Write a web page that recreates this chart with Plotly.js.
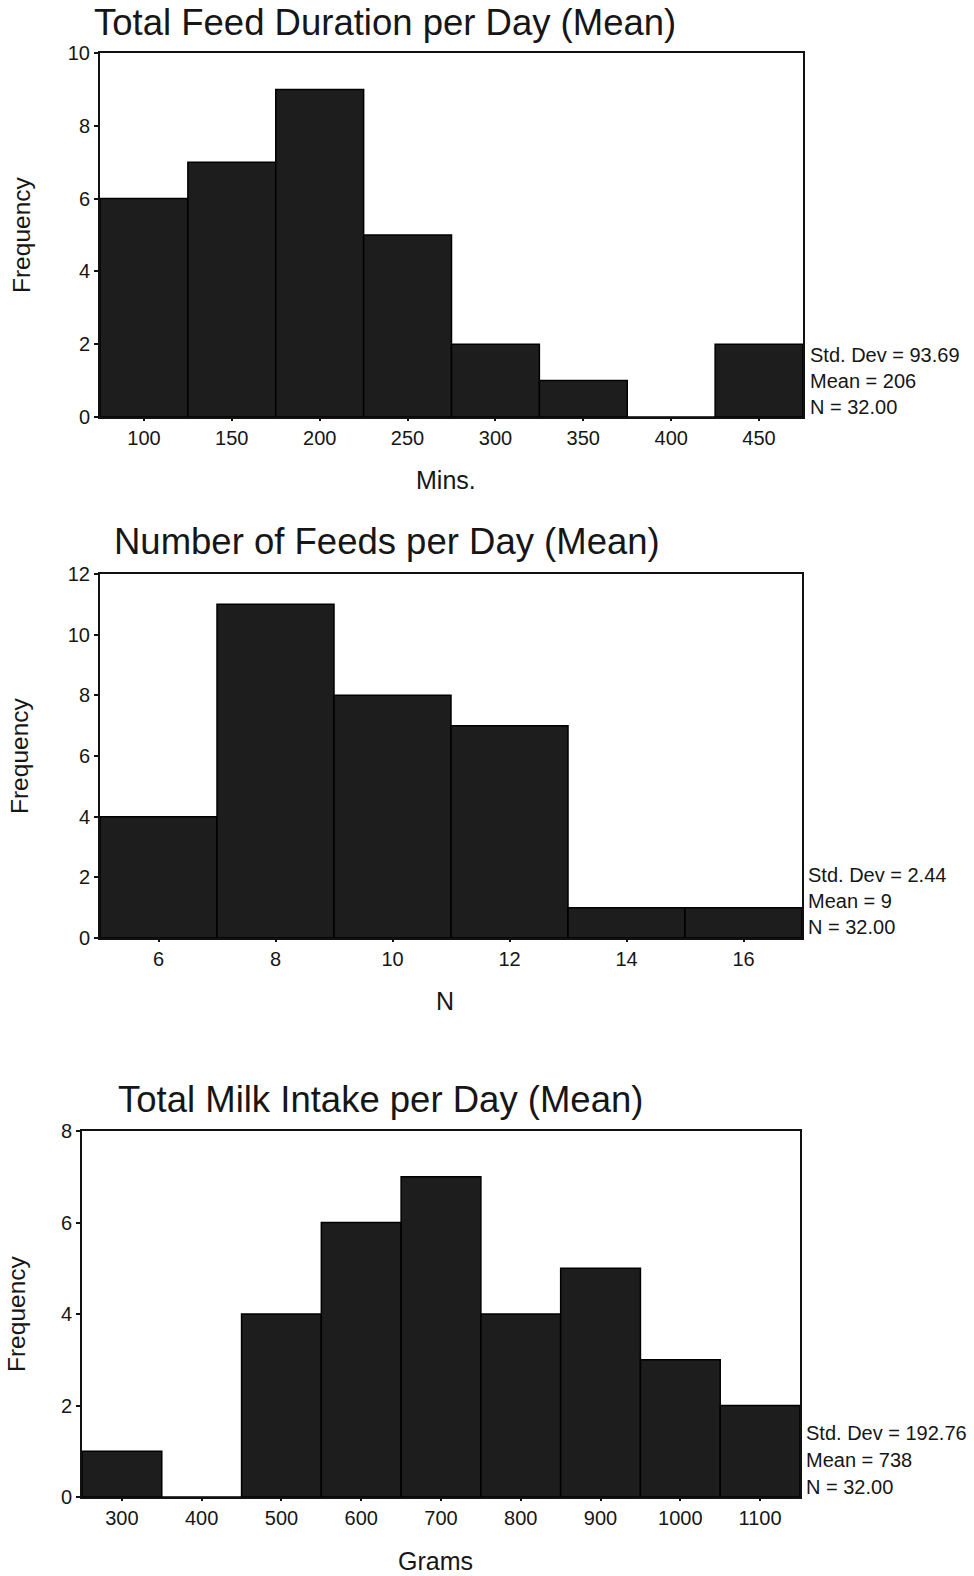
<!DOCTYPE html>
<html>
<head>
<meta charset="utf-8">
<script src="https://cdn.plot.ly/plotly-3.0.1.min.js"></script>
<style>
html,body{margin:0;padding:0;background:#fff;}
#chart{width:974px;height:1576px;}
</style>
</head>
<body>
<div id="chart"></div>
<script>
// ---- Data ----
const durationTitle = "Total Feed Duration per Day (Mean)";
const durationBins = [100, 150, 200, 250, 300, 350, 400, 450];
const durationCounts = [6, 7, 9, 5, 2, 1, 0, 2];
const durationStats = ["Std. Dev = 93.69", "Mean = 206", "N = 32.00"];
const durationXLabel = "Mins.";

const feedsTitle = "Number of Feeds per Day (Mean)";
const feedsBins = [6, 8, 10, 12, 14, 16];
const feedsCounts = [4, 11, 8, 7, 1, 1];
const feedsStats = ["Std. Dev = 2.44", "Mean = 9", "N = 32.00"];
const feedsXLabel = "N";

const milkTitle = "Total Milk Intake per Day (Mean)";
const milkBins = [300, 400, 500, 600, 700, 800, 900, 1000, 1100];
const milkCounts = [1, 0, 4, 6, 7, 4, 5, 3, 2];
const milkStats = ["Std. Dev = 192.76", "Mean = 738", "N = 32.00"];
const milkXLabel = "Grams";

const yLabel = "Frequency";

// ---- Layout helpers ----
const W = 974, H = 1576;
const px = x => x / W;
const py = y => 1 - y / H;
const FONT = "Liberation Sans, Arial, Helvetica, sans-serif";
const INK = "#161616";

function binWidth(b) { return b[1] - b[0]; }

function barTrace(bins, counts, xa, ya) {
  return {
    type: "bar",
    x: bins,
    y: counts,
    width: bins.map(() => binWidth(bins)),
    xaxis: xa, yaxis: ya,
    marker: { color: "#1d1d1d", line: { color: "#000", width: 1.5 } },
    hoverinfo: "x+y"
  };
}

const panels = [
  { bins: durationBins, counts: durationCounts, stats: durationStats, title: durationTitle, xl: durationXLabel,
    box: [100, 53, 803, 417], ymax: 10, titleX: 92, titleY: 22, statsX: 808, statsY: [355, 381, 407],
    xlY: 480, ylX: 22 },
  { bins: feedsBins, counts: feedsCounts, stats: feedsStats, title: feedsTitle, xl: feedsXLabel,
    box: [100, 574, 802, 938], ymax: 12, titleX: 112, titleY: 541, statsX: 806, statsY: [875, 901, 927],
    xlY: 1001, ylX: 20 },
  { bins: milkBins, counts: milkCounts, stats: milkStats, title: milkTitle, xl: milkXLabel,
    box: [82, 1131, 800, 1497], ymax: 8, titleX: 116, titleY: 1099, statsX: 804, statsY: [1433, 1460, 1487],
    xlY: 1561, ylX: 16 }
];

const data = [];
const layout = {
  width: W, height: H,
  margin: { l: 0, r: 0, t: 0, b: 0 },
  paper_bgcolor: "#fff",
  plot_bgcolor: "#fff",
  showlegend: false,
  bargap: 0,
  font: { family: FONT, color: INK },
  annotations: []
};

panels.forEach((p, i) => {
  const n = i === 0 ? "" : String(i + 1);
  const xa = "x" + n, ya = "y" + n;
  data.push(barTrace(p.bins, p.counts, xa, ya));
  const [x0, y0, x1, y1] = p.box;
  const half = binWidth(p.bins) / 2;
  const common = {
    showline: true, mirror: true, linecolor: "#111", linewidth: 2,
    showgrid: false, zeroline: false,
    ticks: "outside", ticklen: 4, tickwidth: 2, tickcolor: "#111",
    tickfont: { family: FONT, size: 20, color: INK },
    fixedrange: true
  };
  layout["xaxis" + n] = Object.assign({}, common, {
    domain: [px(x0), px(x1)],
    anchor: ya,
    range: [p.bins[0] - half, p.bins[p.bins.length - 1] + half],
    tickmode: "array", tickvals: p.bins, ticktext: p.bins.map(String),
    ticklen: 2
  });
  layout["yaxis" + n] = Object.assign({}, common, {
    domain: [py(y1), py(y0)],
    anchor: xa,
    range: [0, p.ymax],
    dtick: 2, tick0: 0
  });
  // chart title
  layout.annotations.push({
    xref: "paper", yref: "paper", x: px(p.titleX), y: py(p.titleY),
    xanchor: "left", yanchor: "middle", showarrow: false,
    text: p.title, font: { family: FONT, size: 36.5, color: INK }
  });
  // x label
  layout.annotations.push({
    xref: "paper", yref: "paper", x: px((x0 + x1) / 2 - 6), y: py(p.xlY),
    xanchor: "center", yanchor: "middle", showarrow: false,
    text: p.xl, font: { family: FONT, size: 25, color: INK }
  });
  // y label
  layout.annotations.push({
    xref: "paper", yref: "paper", x: px(p.ylX), y: py((y0 + y1) / 2),
    xanchor: "center", yanchor: "middle", showarrow: false, textangle: -90,
    text: yLabel, font: { family: FONT, size: 24.5, color: INK }
  });
  // stats
  p.stats.forEach((s, k) => {
    layout.annotations.push({
      xref: "paper", yref: "paper", x: px(p.statsX), y: py(p.statsY[k]),
      xanchor: "left", yanchor: "middle", showarrow: false,
      text: s, font: { family: FONT, size: 20, color: INK }
    });
  });
});

Plotly.newPlot("chart", data, layout, { displayModeBar: false, staticPlot: true });
</script>
</body>
</html>
